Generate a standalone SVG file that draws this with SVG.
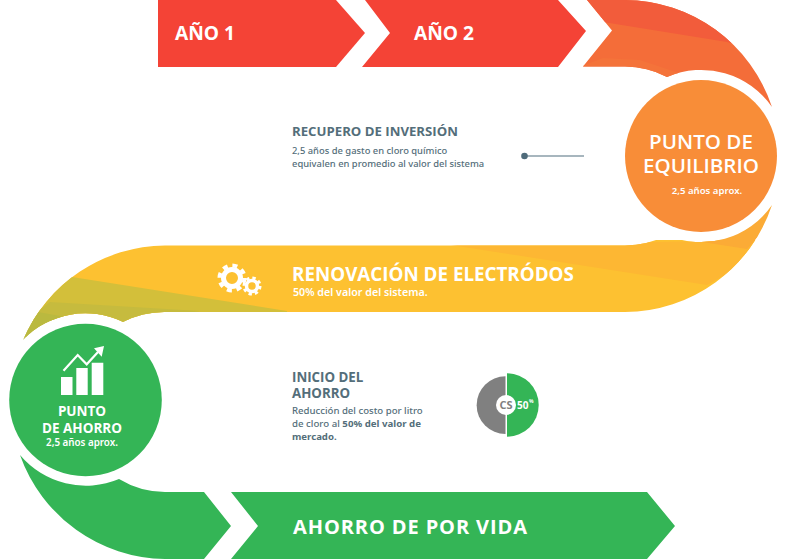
<svg xmlns="http://www.w3.org/2000/svg" width="787" height="559" viewBox="0 0 787 559">
<style>
text{font-family:"Open Sans","Liberation Sans",sans-serif}
.w{fill:#fff}.h{font-weight:700}
.b{font-family:"Noto Sans","Liberation Sans",sans-serif;font-weight:500}
.s{font-weight:600}
.x{font-weight:700}
.g{fill:#546e7a}
</style>
<defs>
<clipPath id="topTurn"><path d="M587,0L625,0A156,156 0 0 1 772,107A86,86 0 0 0 667,77A89.5,89.5 0 0 0 625,66.5L583,66.5L612,30.5Z"/></clipPath>
<clipPath id="yel"><path d="M165,245.5L625,245.5A89.5,89.5 0 0 0 667,235A86,86 0 0 0 772,205A156,156 0 0 1 625,312L165,312A89.5,89.5 0 0 0 123,322A86,86 0 0 0 23,340A156,156 0 0 1 165,245.5Z"/></clipPath>
</defs>
<rect width="787" height="559" fill="#fff"/>
<g id="connectors">
<path d="M158,0L336,0L365,33L336,67L158,67Z" fill="#f44336"/>
<path d="M365,0L558,0L586,31L558,67L362,67L390,33Z" fill="#f44336"/>
<g clip-path="url(#topTurn)">
<rect x="580" width="207" height="120" fill="#f46d39"/>
<path d="M580,14L603,22L727,42L790,60L790,-5L580,-5Z" fill="#f25c3b"/>
<path d="M580,66.5L603,58L640,60L700,80L640,80Z" fill="#f4733a"/>
</g>
<g clip-path="url(#yel)">
<rect y="240" width="787" height="80" fill="#fdc131"/>
<path d="M451,245L560,262L707,285L787,240Z" fill="#fdb733"/>
<path d="M702,242L747,249L787,205L660,205Z" fill="#fbab36"/>
<path d="M72,277L287,311L287,325L0,325L0,250Z" fill="#d3bf3a"/>
<path d="M50,302L200,311L120,325L0,340Z" fill="#c6bb3e"/>
<path d="M38,312L110,325L0,345Z" fill="#bab93f"/>
</g>
<path d="M20,455A156,156 0 0 0 165,559L204,559L231,526L204,492L165,492A89.5,89.5 0 0 1 119,479A86,86 0 0 1 20,455Z" fill="#34b556"/>
<path d="M231,492L647,492L675,526L647,559L231,559L258,526Z" fill="#34b556"/>
<path d="M524,156L584,156" stroke="#8a9ea9" stroke-width="1.5" fill="none"/>
<circle cx="524.5" cy="156" r="3.3" fill="#4f6b7a"/>
</g>
<g id="ano1"><text x="175" y="40" font-size="19.2" class="w h">AÑO 1</text></g>
<g id="ano2"><text x="414" y="40" font-size="19.2" class="w h">AÑO 2</text></g>
<g id="equilibrio">
<circle cx="701" cy="156" r="76" fill="#f88d38"/>
<text x="701" y="149" font-size="20.6" class="w s" text-anchor="middle">PUNTO DE</text>
<text x="701" y="173" font-size="20.6" class="w s" text-anchor="middle">EQUILIBRIO</text>
<text x="707" y="194" font-size="9.6" class="w b s" text-anchor="middle">2,5 años aprox.</text>
</g>
<g id="recupero">
<text x="292" y="136" font-size="13.2" class="g h">RECUPERO DE INVERSIÓN</text>
<text x="292" y="154" font-size="9.4" class="g b">2,5 años de gasto en cloro químico</text>
<text x="292" y="167" font-size="9.4" class="g b">equivalen en promedio al valor del sistema</text>
</g>
<g id="renovacion">
<g fill="none" stroke="#fff">
<circle cx="232" cy="278" r="8.5" stroke-width="5"/>
<circle cx="232" cy="278" r="12.5" stroke-width="4" stroke-dasharray="5 4.82"/>
<circle cx="252" cy="286" r="5.5" stroke-width="3.5"/>
<circle cx="252" cy="286" r="8" stroke-width="3" stroke-dasharray="3.3 3"/>
</g>
<text x="292" y="281" font-size="18.8" class="w h">RENOVACIÓN DE ELECTRÓDOS</text>
<text x="293" y="296" font-size="10.7" class="w b s">50% del valor del sistema.</text>
</g>
<g id="ahorro">
<circle cx="85.5" cy="400" r="76.3" fill="#34b556"/>
<path d="M61,377h11.5v18h-11.5zM76.3,368h11.4v27h-11.4zM91.7,362.7h11.6v32.3h-11.6z" fill="#fff"/>
<path d="M63.5,370.7L77.7,355L86.7,364.3L98,352" fill="none" stroke="#fff" stroke-width="2.2"/>
<path d="M104,346L94,348.3L101.7,356.7Z" fill="#fff"/>
<text x="82" y="416" font-size="13.5" class="w h" text-anchor="middle">PUNTO</text>
<text x="82" y="433" font-size="13.5" class="w h" text-anchor="middle">DE AHORRO</text>
<text x="82" y="446" font-size="9.8" class="w b s" text-anchor="middle">2,5 años aprox.</text>
</g>
<g id="inicio">
<text x="292" y="382" font-size="13.3" class="g h">INICIO DEL</text>
<text x="292" y="398" font-size="13.3" class="g h">AHORRO</text>
<text x="292" y="414" font-size="9.6" class="g b">Reducción del costo por litro</text>
<text x="292" y="427" font-size="9.6" class="g b" textLength="129" lengthAdjust="spacingAndGlyphs">de cloro al <tspan class="x">50% del valor de</tspan></text>
<text x="292" y="440" font-size="9.6" class="g b x">mercado.</text>
</g>
<g id="cs">
<path d="M505.5,376.3A28.7,28.7 0 0 0 505.5,434Z" fill="#808080"/>
<path d="M507,373.3A31.7,31.7 0 0 1 507,436.7Z" fill="#34b556"/>
<circle cx="506" cy="405" r="10" fill="#fff"/>
<text x="506" y="409" font-size="11" fill="#808080" class="h" text-anchor="middle">CS</text>
<text x="517" y="409" font-size="10" class="w h">50</text>
<text x="529" y="403" font-size="5" class="w h">%</text>
</g>
<g id="vida"><text x="293" y="534" font-size="20" class="w h" textLength="234">AHORRO DE POR VIDA</text></g>
</svg>
